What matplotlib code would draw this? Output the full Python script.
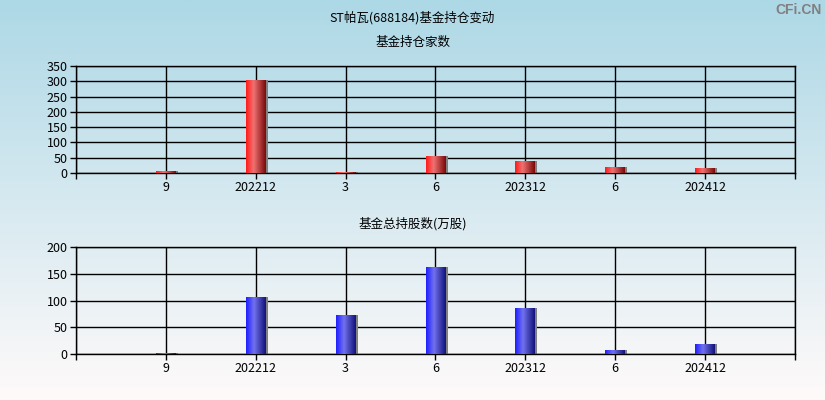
import numpy as np
import matplotlib
matplotlib.use("Agg")
import matplotlib.pyplot as plt
from matplotlib.colors import LinearSegmentedColormap

plt.rcParams['font.family'] = ['Noto Sans CJK SC', 'DejaVu Sans']

# -------------------- Data --------------------
periods = ['9', '202212', '3', '6', '202312', '6', '202412']
fund_count = [7, 305, 3, 57, 39, 20, 16]           # 基金持仓家数
fund_shares = [2, 107, 73, 163, 86, 7, 19]         # 基金总持股数(万股)

title = 'ST帕瓦(688184)基金持仓变动'
sub1 = '基金持仓家数'
sub2 = '基金总持股数(万股)'

# -------------------- Figure + background --------------------
fig = plt.figure(figsize=(8.25, 4), dpi=100)
bg = fig.add_axes([0, 0, 1, 1], zorder=-10)
top_c = np.array([173, 216, 230]) / 255
bot_c = np.array([255, 250, 250]) / 255
t = np.linspace(0, 1, 256)[:, None]
grad = top_c * (1 - t) + bot_c * t
bg.imshow(grad[:, None, :], aspect='auto', extent=[0, 1, 0, 1])
bg.axis('off')

red_cmap = LinearSegmentedColormap.from_list(
    'r', [(0, '#ff1a1a'), (0.38, '#f07272'), (1, '#7a0a0a')])
blue_cmap = LinearSegmentedColormap.from_list(
    'b', [(0, '#1e1eff'), (0.40, '#7272ee'), (1, '#12127a')])

x = np.arange(1, len(periods) + 1)
width = 0.22


def draw_panel(ax, values, cmap, ymax, step):
    ax.set_facecolor('none')
    # grey shadow on the right
    ax.bar(x + 0.025, values, width, color='#808080', zorder=2)
    bars = ax.bar(x, values, width, color='none', linewidth=0, zorder=3)
    gx = np.linspace(0, 1, 64)[None, :]
    for b in bars:
        if b.get_height() <= 0:
            continue
        im = ax.imshow(gx, cmap=cmap, aspect='auto', zorder=3,
                       interpolation='bilinear',
                       extent=[b.get_x(), b.get_x() + b.get_width(),
                               0, b.get_height()])
        im.set_clip_path(b)
    ax.set_xlim(0, len(periods) + 1)
    ax.set_ylim(0, ymax)
    ax.set_xticks(np.arange(0, len(periods) + 2))
    ax.set_xticklabels([''] + periods + [''])
    ax.set_yticks(np.arange(0, ymax + 1, step))
    ax.tick_params(direction='out', length=4, width=1, labelsize=9,
                   colors='black', pad=2)
    ax.grid(True, color='black', linewidth=1)
    ax.set_axisbelow(True)
    for s in ax.spines.values():
        s.set_color('black')
        s.set_linewidth(1)


ax1 = fig.add_axes([0.0921, 0.5675, 0.8715, 0.2675])
draw_panel(ax1, fund_count, red_cmap, 350, 50)

ax2 = fig.add_axes([0.0921, 0.115, 0.8715, 0.2675])
draw_panel(ax2, fund_shares, blue_cmap, 200, 50)

fig.text(0.5, 0.955, title, ha='center', va='center', fontsize=9)
fig.text(0.5, 0.893, sub1, ha='center', va='center', fontsize=9)
fig.text(0.5, 0.44, sub2, ha='center', va='center', fontsize=9)
fig.text(0.996, 0.975, 'CFi.CN', ha='right', va='center', fontsize=10,
         fontweight='bold', color='#808080', family='Liberation Sans')

fig.savefig('out.png', dpi=100)
